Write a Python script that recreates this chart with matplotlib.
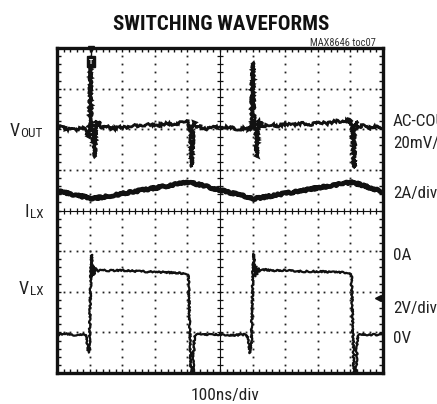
import numpy as np
import matplotlib.pyplot as plt
from matplotlib import font_manager

W, H = 437, 404

# pick a narrow face if one is there, otherwise shrink the regular one
installed = {f.name for f in font_manager.fontManager.ttflist}
if 'Roboto Condensed' in installed:
    FAM, K = 'Roboto Condensed', 1.0
elif 'Liberation Sans Narrow' in installed:
    FAM, K = 'Liberation Sans Narrow', 1.0
else:
    FAM, K = 'Liberation Sans', 0.86
plt.rcParams['font.family'] = [FAM, 'DejaVu Sans']

# waveforms, in scope divisions (x: 0..10, y: 0..8 from bottom)
vout_t = [0.00, 0.15, 0.30, 0.45, 0.60, 0.75, 0.90, 0.97, 1.00, 1.03, 1.05, 1.08,
          1.12, 1.16, 1.19, 1.23, 1.28, 1.35, 1.50, 1.70, 1.90, 2.10, 2.35, 2.60,
          2.85, 3.10, 3.35, 3.60, 3.85, 3.98, 4.04, 4.09, 4.14, 4.18, 4.22, 4.27,
          4.35, 4.55, 4.80, 5.05, 5.30, 5.55, 5.80, 5.95, 6.01, 6.04, 6.08, 6.13,
          6.17, 6.21, 6.26, 6.35, 6.55, 6.80, 7.05, 7.30, 7.55, 7.80, 8.05, 8.30,
          8.55, 8.80, 8.98, 9.05, 9.11, 9.15, 9.19, 9.25, 9.35, 9.55, 9.75, 10.00]
vout_v = [6.02, 6.08, 5.98, 6.05, 5.97, 6.04, 5.98, 5.80, 6.40, 7.50, 6.30, 6.22,
          5.60, 5.32, 6.20, 6.05, 6.20, 6.02, 6.08, 6.00, 6.06, 6.04, 6.10, 6.07,
          6.12, 6.09, 6.14, 6.12, 6.18, 6.22, 6.12, 6.00, 5.07, 6.05, 6.18, 6.02,
          6.08, 6.00, 6.06, 6.02, 6.07, 5.99, 6.04, 5.96, 7.64, 6.30, 6.15, 5.32,
          6.22, 6.05, 6.18, 6.08, 6.12, 6.08, 6.13, 6.10, 6.15, 6.12, 6.17, 6.14,
          6.20, 6.19, 6.24, 6.10, 5.05, 6.08, 6.20, 6.03, 6.10, 6.02, 6.08, 6.03]

il_t = [0.00, 1.10, 4.05, 6.05, 9.05, 10.00]
il_v = [4.48, 4.29, 4.70, 4.29, 4.70, 4.46]

vlx_t = [0.00, 0.30, 0.60, 0.85, 0.91, 0.96, 0.99, 1.04, 1.06, 1.09, 1.12, 1.15,
         1.19, 1.24, 1.30, 1.60, 2.00, 2.50, 3.00, 3.50, 3.95, 4.03, 4.07, 4.12,
         4.16, 4.21, 4.26, 4.60, 5.00, 5.40, 5.80, 5.87, 5.92, 5.96, 6.01, 6.04,
         6.07, 6.10, 6.13, 6.17, 6.22, 6.30, 6.60, 7.00, 7.50, 8.00, 8.50, 8.95,
         9.03, 9.07, 9.12, 9.16, 9.21, 9.26, 9.60, 10.00]
vlx_v = [0.94, 0.96, 0.93, 0.95, 0.86, 0.50, 0.62, 2.50, 2.91, 2.37, 2.62, 2.42,
         2.58, 2.49, 2.55, 2.52, 2.53, 2.50, 2.49, 2.47, 2.45, 2.43, 1.20, -0.30,
         -0.30, 0.85, 0.96, 0.94, 0.95, 0.93, 0.95, 0.86, 0.49, 0.62, 2.50, 2.93,
         2.38, 2.62, 2.43, 2.58, 2.50, 2.55, 2.52, 2.53, 2.50, 2.50, 2.48, 2.47,
         2.45, 1.20, -0.30, -0.30, 0.85, 0.96, 0.94, 0.95]

left_labels = [("V", "OUT", 10, 136), ("I", "LX", 25, 217), ("V", "LX", 19, 294)]
right_labels = [("AC-COUPLED", 126), ("20mV/div", 148), ("2A/div", 198),
                ("0A", 260), ("2V/div", 313), ("0V", 343)]

fig = plt.figure(figsize=(W / 100, H / 100), dpi=100)
ax = fig.add_axes([57 / W, 31 / H, 326 / W, 325 / H])
ax.set_xlim(0, 10)
ax.set_ylim(0, 8)

# graticule
ax.set_xticks(np.arange(0, 11, 1))
ax.set_yticks(np.arange(0, 9, 1))
ax.set_xticks(np.arange(0, 10.01, 0.2), minor=True)
ax.set_yticks(np.arange(0, 8.01, 0.2), minor=True)
ax.tick_params(which='both', direction='in', length=3, width=1, color='#111',
               top=True, right=True, labelbottom=False, labelleft=False)
for s in ax.spines.values():
    s.set_linewidth(2.4)
    s.set_color('#111')

fine_x = np.arange(0, 10.01, 0.2)
fine_y = np.arange(0, 8.01, 0.2)
for gx in [1, 2, 3, 4, 6, 7, 8, 9]:
    ax.plot(np.full_like(fine_y, gx), fine_y, ls='none', marker='s', ms=1.3,
            color='#222', mew=0)
for gy in [1, 2, 3, 5, 6, 7]:
    ax.plot(fine_x, np.full_like(fine_x, gy), ls='none', marker='s', ms=1.3,
            color='#222', mew=0)
ax.axhline(4, color='#111', lw=0.8)
ax.axvline(5, color='#111', lw=0.8)
ax.plot(fine_x, np.full_like(fine_x, 4), ls='none', marker='|', ms=4.5,
        mew=0.9, color='#111')
ax.plot(np.full_like(fine_y, 5), fine_y, ls='none', marker='_', ms=4.5,
        mew=0.9, color='#111')

# traces
l1, = ax.plot(vout_t, vout_v, color='#111', lw=2.0, solid_joinstyle='miter')
l2, = ax.plot(il_t, il_v, color='#111', lw=3.4)
l3, = ax.plot(vlx_t, vlx_v, color='#111', lw=1.6)
l1.set_sketch_params(1.2, 2.5, 8)
l2.set_sketch_params(1.0, 2.5, 8)
l3.set_sketch_params(0.8, 2.5, 8)

# trigger marker and channel marker
ax.plot([1.03, 1.03], [8.0, 7.5], color='#111', lw=1.0)
ax.plot([1.03], [7.97], marker='v', ms=5, color='#111', clip_on=False)
ax.text(1.03, 7.66, "T", color='white', fontsize=5.5, fontweight='bold',
        ha='center', va='center',
        bbox=dict(boxstyle='square,pad=0.25', fc='#111', ec='#111'))
ax.plot([9.84], [1.85], marker='<', ms=4, color='#111')

# texts
fig.text(221 / W, 1 - 30 / H, "SWITCHING WAVEFORMS", ha='center', va='baseline',
         fontsize=15 * K, fontweight='bold', color='#111')
fig.text(376 / W, 1 - 46 / H, "MAX8646 toc07", ha='right', va='baseline',
         fontsize=7.5 * K, color='#333')
fig.text(225 / W, 1 - 400 / H, "100ns/div", ha='center', va='baseline',
         fontsize=12.5 * K, color='#222')
for txt, py in right_labels:
    fig.text(393 / W, 1 - py / H, txt, ha='left', va='baseline',
             fontsize=12.3 * K, color='#222')
for main, sub, px, py in left_labels:
    t = fig.text(px / W, 1 - py / H, main, ha='left', va='baseline',
                 fontsize=13 * K, color='#222')
    ax.annotate(sub, xy=(1, 0), xycoords=t, xytext=(0.3, -0.3),
                textcoords='offset points', ha='left', va='bottom',
                fontsize=9.5 * K, color='#222', annotation_clip=False)

fig.savefig('out.png', dpi=100)
